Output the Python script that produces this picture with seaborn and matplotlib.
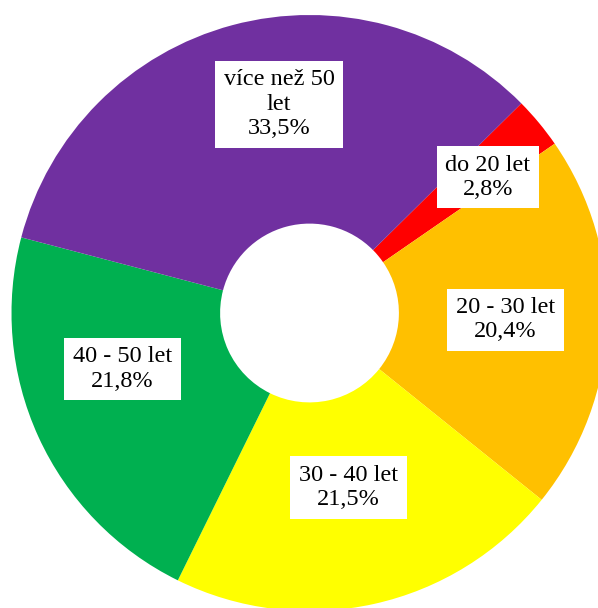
import matplotlib
matplotlib.use("Agg")
import matplotlib.pyplot as plt
import seaborn as sns

# data (clockwise from the small red slice)
categories = ["do 20 let", "20 - 30 let", "30 - 40 let", "40 - 50 let", "více než 50 let"]
shares = [2.8, 20.4, 21.5, 21.8, 33.5]
label_texts = ["do 20 let\n2,8%", "20 - 30 let\n20,4%", "30 - 40 let\n21,5%",
               "40 - 50 let\n21,8%", "více než 50\nlet\n33,5%"]
colors = ["#FF0000", "#FFC000", "#FFFF00", "#00B050", "#7030A0"]

# label box centres (axes data units, pie radius = 1)
label_pos = [(0.599, 0.456), (0.658, -0.023), (0.131, -0.586),
             (-0.628, -0.188), (-0.102, 0.701)]

sns.set_style("white")
plt.rcParams["font.family"] = ["Liberation Serif", "DejaVu Serif"]

fig = plt.figure(figsize=(5.98, 6.08), dpi=100)
ax = fig.add_axes([11.5 / 598, -3 / 608, 596 / 598, 596 / 608])

ax.pie(shares, colors=colors, startangle=44.7, counterclock=False,
       radius=1, wedgeprops=dict(width=0.70, linewidth=0))

for txt, (x, y) in zip(label_texts, label_pos):
    ax.text(x, y, txt, ha="center", va="center", fontsize=17.5, color="black",
            linespacing=1.2, multialignment="center",
            bbox=dict(boxstyle="square,pad=0.36", fc="white", ec="none"))

ax.set_xlim(-1, 1)
ax.set_ylim(-1, 1)
ax.set_aspect("equal")
ax.axis("off")

fig.savefig("out.png", dpi=100)
